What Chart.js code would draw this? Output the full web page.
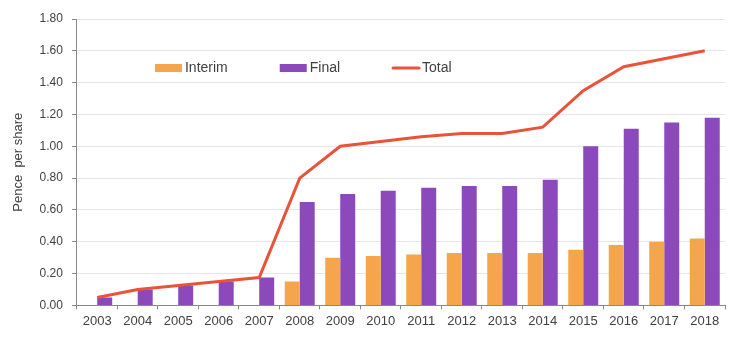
<!DOCTYPE html>
<html>
<head>
<meta charset="utf-8">
<script src="https://cdn.jsdelivr.net/npm/chart.js@4.4.1/dist/chart.umd.min.js"></script>
<style>
  html, body { margin: 0; padding: 0; background: #fff; }
  #wrap { width: 743px; height: 345px; position: relative; }
</style>
</head>
<body>
<div id="wrap"><canvas id="chart"></canvas></div>
<script>
// Dividend per share, pence
const years = ["2003", "2004", "2005", "2006", "2007", "2008", "2009", "2010",
               "2011", "2012", "2013", "2014", "2015", "2016", "2017", "2018"];
const interim = [null, null, null, null, null, 0.15, 0.30, 0.31,
                 0.32, 0.33, 0.33, 0.33, 0.35, 0.38, 0.40, 0.42];
const finalDiv = [0.05, 0.10, 0.125, 0.15, 0.175, 0.65, 0.70, 0.72,
                  0.74, 0.75, 0.75, 0.79, 1.00, 1.11, 1.15, 1.18];
const total = [0.05, 0.10, 0.125, 0.15, 0.175, 0.80, 1.00, 1.03,
               1.06, 1.08, 1.08, 1.12, 1.35, 1.50, 1.55, 1.60];

const textColor = "#404040";
const fontFamily = "'Liberation Sans', Arial, sans-serif";

// legend drawn inside the plot area, like the original
const insideLegend = {
    id: "insideLegend",
    afterDraw(chart) {
        const ctx = chart.ctx;
        const area = chart.chartArea;
        const items = chart.data.datasets.map(ds => ({
            label: ds.label, color: ds.type === "line" ? ds.borderColor : ds.backgroundColor, line: ds.type === "line"
        }));
        let x = area.left + 78;
        const y = area.top + 49;
        ctx.save();
        ctx.font = "14px " + fontFamily;
        ctx.textBaseline = "middle";
        items.forEach(it => {
            if (it.line) {
                ctx.strokeStyle = it.color;
                ctx.lineWidth = 3;
                ctx.lineCap = "round";
                ctx.beginPath();
                ctx.moveTo(x + 1, y);
                ctx.lineTo(x + 27, y);
                ctx.stroke();
            } else {
                ctx.fillStyle = it.color;
                ctx.fillRect(x, y - 4, 27, 8);
            }
            ctx.fillStyle = textColor;
            ctx.fillText(it.label, x + 30, y);
            x += 30 + ctx.measureText(it.label).width + 52;
        });
        ctx.restore();
    }
};

const ctx = document.getElementById("chart").getContext("2d");
new Chart(ctx, {
    data: {
        labels: years,
        datasets: [
            {
                type: "bar",
                label: "Interim",
                data: interim,
                backgroundColor: "#F5A54B",
                categoryPercentage: 0.74,
                barPercentage: 1.0,
                order: 1
            },
            {
                type: "bar",
                label: "Final",
                data: finalDiv,
                backgroundColor: "#8B49BB",
                categoryPercentage: 0.74,
                barPercentage: 1.0,
                order: 1
            },
            {
                type: "line",
                label: "Total",
                data: total,
                borderColor: "#E8533A",
                backgroundColor: "#E8533A",
                borderWidth: 3,
                pointRadius: 0,
                tension: 0,
                order: 0
            }
        ]
    },
    options: {
        responsive: true,
        maintainAspectRatio: false,
        animation: false,
        layout: { padding: { top: 19, right: 18, bottom: 12, left: 11 } },
        plugins: {
            legend: { display: false },
            tooltip: { enabled: false }
        },
        scales: {
            x: {
                grid: {
                    offset: true,
                    drawOnChartArea: false,
                    drawTicks: true,
                    tickLength: 4,
                    color: "#888"
                },
                border: { color: "#888" },
                ticks: {
                    color: textColor,
                    font: { family: fontFamily, size: 13 },
                    padding: 4,
                    maxRotation: 0,
                    autoSkip: false
                }
            },
            y: {
                min: 0,
                max: 1.8,
                ticks: {
                    stepSize: 0.2,
                    color: textColor,
                    font: { family: fontFamily, size: 12 },
                    padding: 9,
                    callback: v => v.toFixed(2)
                },
                grid: {
                    color: "#e6e6e6",
                    tickColor: "#888",
                    tickLength: 5
                },
                border: { color: "#888" },
                title: {
                    display: true,
                    text: "Pence  per share",
                    color: textColor,
                    font: { family: fontFamily, size: 13 },
                    padding: { top: 0, bottom: 4 }
                }
            }
        }
    },
    plugins: [insideLegend]
});
</script>
</body>
</html>
